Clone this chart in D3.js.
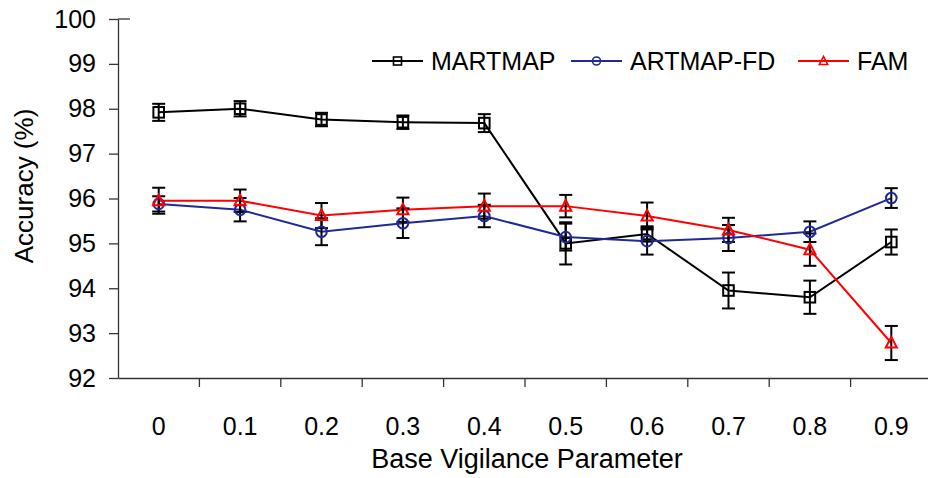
<!DOCTYPE html>
<html>
<head>
<meta charset="utf-8">
<script src="https://cdn.jsdelivr.net/npm/d3@7"></script>
<style>
    body { margin: 0; background: #fff; }
    svg { display: block; font-family: "Liberation Sans", Arial, sans-serif; }
</style>
</head>
<body>
<div id="content"></div>
<script>
// values
const categories = ['0', '0.1', '0.2', '0.3', '0.4', '0.5', '0.6', '0.7', '0.8', '0.9'];
const yTicks = [92, 93, 94, 95, 96, 97, 98, 99, 100];

const martmap    = [97.92, 98.00, 97.76, 97.70, 97.68, 95.00, 95.21, 93.95, 93.80, 95.03];
const martmapErr = [0.19, 0.17, 0.15, 0.15, 0.20, 0.47, 0.17, 0.40, 0.37, 0.28];
const artmapfd    = [95.88, 95.75, 95.26, 95.45, 95.61, 95.14, 95.05, 95.12, 95.26, 96.01];
const artmapfdErr = [0.17, 0.26, 0.30, 0.33, 0.25, 0.30, 0.30, 0.29, 0.23, 0.22];
const fam    = [95.95, 95.95, 95.62, 95.75, 95.83, 95.83, 95.61, 95.30, 94.86, 92.78];
const famErr = [0.29, 0.25, 0.28, 0.27, 0.28, 0.25, 0.30, 0.27, 0.36, 0.38];

const series = [
    { name: 'MARTMAP', values: martmap, err: martmapErr, color: '#000000', symbol: 'square' },
    { name: 'ARTMAP-FD', values: artmapfd, err: artmapfdErr, color: '#1f2a96', symbol: 'circle' },
    { name: 'FAM', values: fam, err: famErr, color: '#ff0000', symbol: 'triangle' },
];

const width = 928, height = 478;
const axisColor = '#3a3232';

const svg = d3.select('#content').append('svg')
    .attr('width', width)
    .attr('height', height);

const x = d3.scaleBand()
    .domain(categories)
    .range([118, 932]);

const y = d3.scaleLinear()
    .domain([92, 100])
    .range([378, 19]);

// marker drawing
function marker(g, symbol, cx, cy, r, color, sw) {
    if (symbol === 'square') {
        g.append('rect')
            .attr('x', cx - r).attr('y', cy - r)
            .attr('width', 2 * r).attr('height', 2 * r)
            .attr('fill', 'none').attr('stroke', color).attr('stroke-width', sw);
    } else if (symbol === 'circle') {
        g.append('circle')
            .attr('cx', cx).attr('cy', cy).attr('r', r)
            .attr('fill', 'none').attr('stroke', color).attr('stroke-width', sw);
    } else {
        const h = r * 1.15;
        g.append('path')
            .attr('d', `M${cx},${cy - h}L${cx + r * 1.05},${cy + h * 0.75}L${cx - r * 1.05},${cy + h * 0.75}Z`)
            .attr('fill', 'none').attr('stroke', color).attr('stroke-width', sw);
    }
}

// axes
const yAxis = svg.append('g')
    .attr('transform', 'translate(118,0)')
    .call(d3.axisLeft(y).tickValues(yTicks).tickSize(9).tickPadding(13).tickSizeOuter(0));
yAxis.select('.domain').attr('stroke', axisColor).attr('stroke-width', 1.3);
yAxis.selectAll('.tick line').attr('stroke', axisColor).attr('stroke-width', 1.3);
yAxis.selectAll('.tick text').attr('font-size', 25).attr('fill', '#000')
    .attr('font-family', '"Liberation Sans", Arial, sans-serif');

// short line at the top of the value axis
svg.append('line')
    .attr('x1', 118).attr('x2', 130)
    .attr('y1', y(100)).attr('y2', y(100))
    .attr('stroke', axisColor).attr('stroke-width', 1.3);

const xAxis = svg.append('g')
    .attr('transform', `translate(0,${y(92)})`)
    .call(d3.axisBottom(x).tickSize(0).tickPadding(39).tickSizeOuter(0));
xAxis.select('.domain').attr('stroke', axisColor).attr('stroke-width', 1.3);
xAxis.selectAll('.tick text').attr('font-size', 25).attr('fill', '#000')
    .attr('font-family', '"Liberation Sans", Arial, sans-serif');

// category separators
svg.append('g').selectAll('line')
    .data(categories.slice(1))
    .enter()
    .append('line')
    .attr('x1', d => x(d)).attr('x2', d => x(d))
    .attr('y1', y(92)).attr('y2', y(92) + 9)
    .attr('stroke', axisColor).attr('stroke-width', 1.3);

// axis titles
svg.append('text')
    .attr('x', 527).attr('y', 468)
    .attr('text-anchor', 'middle')
    .attr('font-size', 27)
    .text('Base Vigilance Parameter');

svg.append('text')
    .attr('transform', 'translate(33,186) rotate(-90)')
    .attr('text-anchor', 'middle')
    .attr('font-size', 26)
    .text('Accuracy (%)');

// series
const cx = d => x(d) + x.bandwidth() / 2;
const line = d3.line()
    .x((d, i) => cx(categories[i]))
    .y(d => y(d));

series.forEach(s => {
    svg.append('path')
        .datum(s.values)
        .attr('d', line)
        .attr('fill', 'none')
        .attr('stroke', s.color)
        .attr('stroke-width', 2);
});

// error bars
series.forEach(s => {
    const g = svg.append('g').attr('stroke', '#000').attr('stroke-width', 2);
    s.values.forEach((v, i) => {
        const px = cx(categories[i]);
        const top = y(v + s.err[i]), bot = y(v - s.err[i]);
        g.append('line').attr('x1', px).attr('x2', px).attr('y1', top).attr('y2', bot);
        g.append('line').attr('x1', px - 6.5).attr('x2', px + 6.5).attr('y1', top).attr('y2', top);
        g.append('line').attr('x1', px - 6.5).attr('x2', px + 6.5).attr('y1', bot).attr('y2', bot);
    });
});

// markers
series.forEach(s => {
    const g = svg.append('g');
    s.values.forEach((v, i) => {
        marker(g, s.symbol, cx(categories[i]), y(v), 5.3, s.color, 2);
    });
});

// legend
const legendX = [372, 571, 798];
const legendY = 61;
series.forEach((s, i) => {
    const g = svg.append('g');
    g.append('line')
        .attr('x1', legendX[i]).attr('x2', legendX[i] + 51)
        .attr('y1', legendY).attr('y2', legendY)
        .attr('stroke', s.color).attr('stroke-width', 2);
    marker(g, s.symbol, legendX[i] + 25.5, legendY, 4, s.color, 1.6);
    g.append('text')
        .attr('x', legendX[i] + 59)
        .attr('y', legendY + 9)
        .attr('font-size', 25)
        .text(s.name);
});
</script>
</body>
</html>
